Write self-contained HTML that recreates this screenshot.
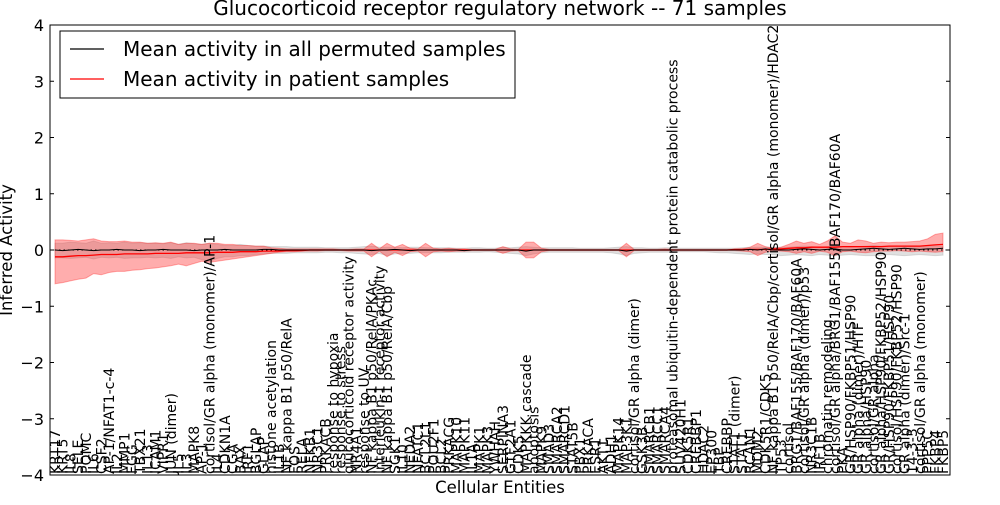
<!DOCTYPE html>
<html><head><meta charset="utf-8"><style>
html,body{margin:0;padding:0;background:#fff;}
svg text{font-family:"DejaVu Sans","Liberation Sans",sans-serif;}
</style></head><body>
<svg id="chart" width="1000" height="500" viewBox="0 0 1000 500" xmlns="http://www.w3.org/2000/svg">
<rect width="1000" height="500" fill="#fff"/>
<g id="bands"></g>
<g id="lines"></g>
<g id="labels"></g>
<g id="axes"></g>
<text x="500" y="15" text-anchor="middle" font-size="20">Glucocorticoid receptor regulatory network -- 71 samples</text>
<text x="500" y="493" text-anchor="middle" font-size="16.5">Cellular Entities</text>
<text transform="translate(12,250) rotate(-90)" text-anchor="middle" font-size="16.5">Inferred Activity</text>
<g>
<rect x="60" y="31" width="455" height="67" fill="#fff" stroke="#000" stroke-width="1"/>
<line x1="70" y1="49" x2="104" y2="49" stroke="#000" stroke-width="1.2"/>
<text x="123" y="56" font-size="20">Mean activity in all permuted samples</text>
<line x1="70" y1="79" x2="104" y2="79" stroke="#f00" stroke-width="1.2"/>
<text x="123" y="86" font-size="20">Mean activity in patient samples</text>
</g>
</svg>
<script>
const categories = ["KRT17","KRT5","IL8","SELE","POMC","IL6","CSF2","AP-1/NFAT1-c-4","IL2","MMP1","FGG","TBX21","IL13","ICAM1","VIPR1","JUN (dimer)","IL5","IL3","MAPK8","AP-1","cortisol/GR alpha (monomer)/AP-1","IL4","CDKN1A","CGA","BAX","IRF1","BGLAP","GLAP","histone acetylation","IL1B","NF kappa B1 p50/RelA","FOS","RELA","NFKB1","NR3C1","PRKACB","response to hypoxia","response to stress","glucocorticoid receptor activity","NR4A1","response to UV","NF kappa B1 p50/RelA/PKAc","interleukin-1 receptor activity","NF kappa B1 p50/RelA/Cbp","SGK1","IL10","NEDA2","NFATC1","BCL2L1","POU2F1","BCL2","PRKACG","MAPK10","MAPK11","IL1A","MAPK1","MAPK3","YWHAH","SERPINA3","GTF2A1","CDK5","MAPKKK cascade","apoptosis","MAPK9","SMAD3","SMARCA2","SMARCD1","STAT5B","PBX1","PRKACA","ESR1","AKT1","ADH1","MAPK14","MAP3K1","cortisol/GR alpha (dimer)","GSK3B","SMARCB1","SMARCC1","SMARCA4","proteasomal ubiquitin-dependent protein catabolic process","SUV420H1","CDK5R1","CREBBP1","HDAC2","EP300","TBP","CREBBP","STAT1 (dimer)","STAT1","RCAN1","MDM2","CDK5R1/CDK5","NF kappa B1 p50/RelA/Cbp/cortisol/GR alpha (monomer)/HDAC2","TP53","cortisol","BRG1/BAF155/BAF170/BAF60A","cortisol/GR alpha (dimer)/p53","NR3C1B","IRF1B","chromatin remodeling","cortisol/GR alpha/BRG1/BAF155/BAF170/BAF60A","PKA","GR/HSP90/FKBP51/HSP90","GR alpha (dimer)/HTF","GR alpha/HSP90","cortisol/GR alpha","GR alpha/HSP90/FKBP52/HSP90","GR/HSP90/FKBP51/HSP90","cortisol/HSP90/FKBP52/HSP90","GR alpha (dimer)/Src-1","14-3-3","cortisol/GR alpha (monomer)","PPP5C","FKBP4","FKBP5"];
const permMean = [0,-0.01,0,0.01,0,-0.01,0,0,0.01,0, 0,-0.01,0,0,0.01,0,0,0,-0.01,0, 0,0,0.01,0,0,0,0,0.01,0.01,0, 0,0,0,0,0,0,0,0,0,0, 0,-0.01,0,0,0.01,0,-0.01,0,0,0, 0,0,0,-0.01,0,0,0,0,0,0, 0,-0.02,0,0,0,0,0,0,0,0, 0,0,0,0,-0.02,0,0,0,0,0, 0,0,0,0,0,0,0,0,0,0, 0.01,0,0.02,0,0,0,0.01,0.02,0.01,0, 0.01,0.02,0,0,0.01,0.02,0.03,0.02,0.01,0.02, 0.03,0.02,0.01,0.02,0.02,0.03,0.01,0.02];
const permUp = [0.12,0.12,0.14,0.13,0.12,0.16,0.12,0.13,0.12,0.14, 0.12,0.13,0.12,0.12,0.11,0.13,0.1,0.13,0.11,0.1, 0.12,0.1,0.08,0.08,0.1,0.08,0.07,0.07,0.06,0.06, 0.06,0.05,0.05,0.05,0.05,0.04,0.04,0.04,0.04,0.05, 0.06,0.07,0.05,0.05,0.05,0.04,0.05,0.05,0.04,0.04, 0.04,0.04,0.03,0.03,0.04,0.04,0.03,0.03,0.05,0.04, 0.05,0.06,0.05,0.04,0.04,0.04,0.04,0.04,0.03,0.03, 0.03,0.03,0.04,0.05,0.06,0.04,0.04,0.03,0.03,0.04, 0.04,0.03,0.03,0.03,0.03,0.03,0.03,0.03,0.03,0.04, 0.05,0.05,0.05,0.05,0.05,0.05,0.06,0.07,0.06,0.05, 0.06,0.07,0.06,0.05,0.06,0.07,0.08,0.07,0.06,0.07, 0.07,0.06,0.06,0.06,0.07,0.07,0.06,0.07];
const permLo = [-0.14,-0.14,-0.15,-0.14,-0.13,-0.16,-0.13,-0.14,-0.13,-0.15, -0.14,-0.14,-0.13,-0.14,-0.13,-0.15,-0.12,-0.14,-0.13,-0.17, -0.2,-0.15,-0.12,-0.12,-0.1,-0.1,-0.08,-0.07,-0.06,-0.06, -0.06,-0.05,-0.05,-0.05,-0.05,-0.04,-0.04,-0.05,-0.05,-0.06, -0.07,-0.08,-0.06,-0.1,-0.07,-0.06,-0.06,-0.05,-0.05,-0.05, -0.05,-0.04,-0.04,-0.04,-0.04,-0.04,-0.03,-0.04,-0.05,-0.06, -0.07,-0.1,-0.07,-0.05,-0.04,-0.04,-0.04,-0.04,-0.04,-0.04, -0.04,-0.04,-0.05,-0.07,-0.1,-0.06,-0.05,-0.04,-0.04,-0.04, -0.04,-0.03,-0.03,-0.03,-0.03,-0.04,-0.05,-0.05,-0.06,-0.07, -0.08,-0.07,-0.08,-0.08,-0.1,-0.09,-0.08,-0.09,-0.1,-0.08, -0.09,-0.1,-0.09,-0.08,-0.09,-0.1,-0.1,-0.09,-0.08,-0.09, -0.1,-0.09,-0.08,-0.09,-0.1,-0.09,-0.08,-0.09];
const patMean = [-0.12,-0.12,-0.11,-0.1,-0.1,-0.09,-0.08,-0.08,-0.08,-0.07, -0.07,-0.07,-0.07,-0.06,-0.06,-0.06,-0.06,-0.05,-0.05,-0.05, -0.05,-0.04,-0.04,-0.04,-0.03,-0.03,-0.03,-0.02,-0.02,-0.02, -0.01,-0.01,-0.01,0,0,0,0,0,0,0, 0,0,0,0,0,0,0,0,0,0, 0,0,0,0,0,0,0,0,0,0, 0,0,0,0,0,0,0,0,0,0, 0,0,0,0,0,0,0,0,0,0, 0,0,0,0,0,0,0,0,0.01,0.01, 0.01,0.01,0.01,0.02,0.02,0.03,0.04,0.04,0.05,0.05, 0.05,0.05,0.06,0.06,0.06,0.06,0.06,0.06,0.07,0.07, 0.07,0.07,0.07,0.08,0.09,0.1,0.1,0.1];
const patUp = [0.18,0.18,0.17,0.16,0.18,0.2,0.16,0.15,0.15,0.16, 0.14,0.14,0.12,0.13,0.12,0.14,0.1,0.12,0.12,0.1, 0.12,0.12,0.1,0.1,0.08,0.08,0.07,0.07,0.04,0.03, 0.02,0.02,0.02,0.02,0.02,0.02,0.02,0.01,0.01,0.02, 0.02,0.12,0.02,0.12,0.05,0.1,0.03,0.02,0.12,0.03, 0.02,0.03,0.02,0.02,0.01,0.01,0.01,0.01,0.06,0.02, 0.01,0.14,0.14,0.03,0.01,0.01,0.01,0.01,0.01,0.01, 0.01,0.01,0.01,0.01,0.12,0.01,0.01,0.01,0.01,0.02, 0.01,0.01,0.01,0.01,0.01,0.01,0.01,0.01,0.01,0.02, 0.05,0.12,0.06,0.03,0.05,0.1,0.16,0.12,0.15,0.1, 0.16,0.25,0.14,0.12,0.18,0.16,0.12,0.14,0.13,0.14, 0.14,0.15,0.16,0.2,0.28,0.3,0.36,0.38];
const patLo = [-0.6,-0.58,-0.55,-0.52,-0.5,-0.42,-0.44,-0.4,-0.38,-0.38, -0.36,-0.35,-0.33,-0.32,-0.3,-0.28,-0.25,-0.28,-0.24,-0.2, -0.22,-0.2,-0.18,-0.16,-0.14,-0.12,-0.1,-0.08,-0.06,-0.04, -0.03,-0.03,-0.02,-0.02,-0.02,-0.01,-0.01,-0.01,-0.02,-0.02, -0.02,-0.12,-0.02,-0.12,-0.04,-0.1,-0.03,-0.02,-0.12,-0.03, -0.02,-0.03,-0.02,-0.02,-0.01,-0.01,-0.01,-0.01,-0.06,-0.02, -0.01,-0.14,-0.14,-0.03,-0.01,-0.01,-0.01,-0.01,-0.01,-0.01, -0.01,-0.01,-0.01,-0.01,-0.12,-0.01,-0.01,-0.01,-0.01,-0.01, -0.01,-0.01,-0.01,-0.01,-0.01,-0.01,-0.01,-0.01,-0.01,-0.02, -0.03,-0.1,-0.04,-0.01,-0.02,-0.03,-0.06,-0.03,-0.06,-0.02, -0.04,-0.1,-0.03,-0.02,-0.04,-0.05,-0.03,-0.02,-0.02,-0.01, -0.02,-0.03,-0.02,-0.03,-0.04,-0.03,-0.04,-0.04];
const yTicks = [-4,-3,-2,-1,0,1,2,3,4];

const NS='http://www.w3.org/2000/svg';
const L=50,R=950,T=25,B=475;
const N=categories.length;
function xs(i){return 55+i*(888/(N-1));}
function ys(v){return T+(4-v)*(B-T)/8;}
function mk(tag,attrs,parent){const e=document.createElementNS(NS,tag);for(const k in attrs)e.setAttribute(k,attrs[k]);parent.appendChild(e);return e;}
function band(up,lo){let d='';for(let i=0;i<N;i++)d+=(i?'L':'M')+xs(i).toFixed(1)+','+ys(up[i]).toFixed(1);for(let i=N-1;i>=0;i--)d+='L'+xs(i).toFixed(1)+','+ys(lo[i]).toFixed(1);return d+'Z';}
function line(a){let d='';for(let i=0;i<N;i++)d+=(i?'L':'M')+xs(i).toFixed(1)+','+ys(a[i]).toFixed(1);return d;}
const bands=document.getElementById('bands'),lines=document.getElementById('lines'),labels=document.getElementById('labels'),axes=document.getElementById('axes');
let p=mk('path',{d:band(permUp,permLo),fill:'#bbb','fill-opacity':'0.45',stroke:'#aaa','stroke-opacity':'0.4'},bands);


p=mk('path',{d:band(patUp,patLo),fill:'#f33','fill-opacity':'0.4',stroke:'#f00','stroke-opacity':'0.3'},bands);


p=mk('line',{x1:L,x2:R,y1:ys(0),y2:ys(0),stroke:'#000','stroke-dasharray':'1.5,3','stroke-width':1},lines);


p=mk('path',{d:line(patMean),fill:'none',stroke:'#f00','stroke-width':1.3},lines);


p=mk('path',{d:line(permMean),fill:'none',stroke:'#000','stroke-width':1},lines);


for(let i=0;i<N;i++){
  const t=mk('text',{transform:'translate('+(xs(i)+5).toFixed(1)+','+(B-1)+') rotate(-90)','font-size':'14'},labels);
  t.textContent=categories[i];
  
  
}
p=mk('rect',{x:L,y:T,width:R-L,height:B-T,fill:'none',stroke:'#000','stroke-width':1},axes);


yTicks.forEach(v=>{
  const y=ys(v);
  let tk=mk('line',{x1:L,x2:L+4,y1:y,y2:y,stroke:'#000'},axes);
  
  
  tk=mk('line',{x1:R-4,x2:R,y1:y,y2:y,stroke:'#000'},axes);
  
  
  const t=mk('text',{x:L-6,y:y+6,'text-anchor':'end','font-size':'16'},axes);
  t.textContent=(v<0?'\u2212':'')+Math.abs(v);
  
  
});
</script>
</body></html>
